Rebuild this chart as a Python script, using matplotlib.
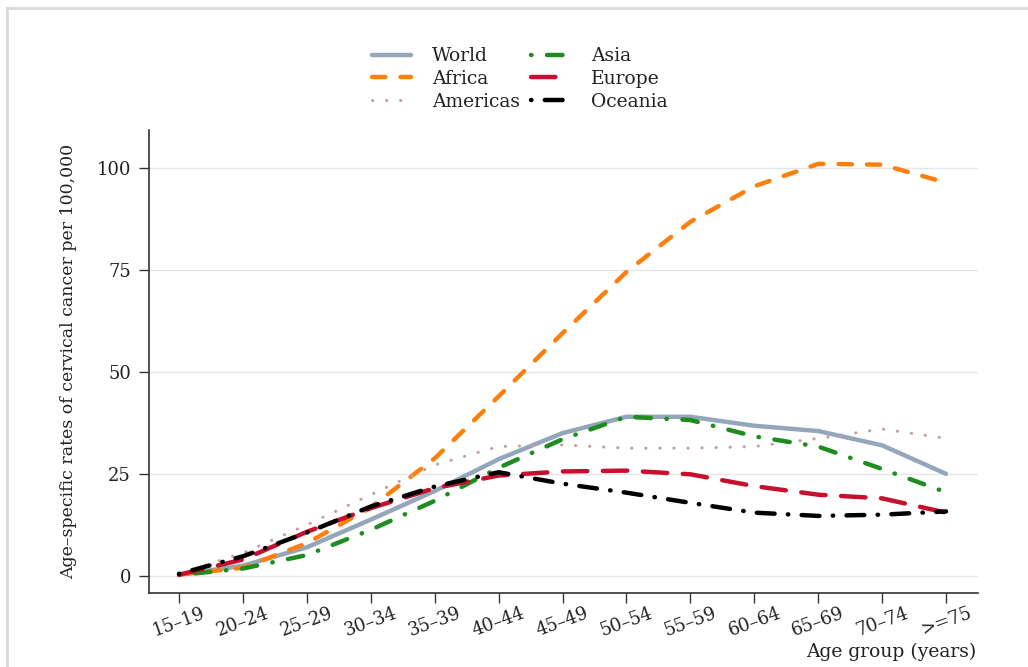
import matplotlib
matplotlib.use("Agg")
import matplotlib.pyplot as plt
from matplotlib.lines import Line2D

age_groups = ["15–19", "20–24", "25–29", "30–34", "35–39", "40–44", "45–49",
              "50–54", "55–59", "60–64", "65–69", "70–74", ">=75"]

world    = [0.3, 2.5, 7.0, 13.8, 20.8, 28.6, 35.0, 39.0, 39.0, 36.8, 35.5, 32.0, 25.0]
africa   = [0.3, 2.0, 8.0, 16.8, 28.8, 44.0, 59.5, 74.5, 86.8, 95.5, 101.0, 100.8, 96.4]
americas = [0.5, 5.6, 12.5, 19.9, 27.2, 31.7, 32.1, 31.3, 31.3, 31.7, 33.7, 36.0, 33.7]
asia     = [0.2, 1.8, 5.1, 11.3, 18.4, 26.5, 33.5, 39.0, 38.2, 34.2, 31.7, 26.2, 20.5]
europe   = [0.3, 4.0, 10.8, 16.6, 21.5, 24.6, 25.6, 25.8, 24.9, 22.0, 19.9, 19.0, 15.5]
oceania  = [0.5, 4.8, 10.6, 17.0, 21.9, 25.4, 22.6, 20.4, 17.9, 15.5, 14.7, 15.0, 15.8]

yticks = [0, 25, 50, 75, 100]

plt.rcParams["font.family"] = ["DejaVu Serif"]

W, H = 1028, 667
fig = plt.figure(figsize=(W / 100, H / 100), dpi=100)
ax = fig.add_axes([149 / W, 1 - 593 / H, (978 - 149) / W, (593 - 130) / H])

x = list(range(len(age_groups)))
lw = 3.2
ax.plot(x, world, color="#94a6ba", lw=lw, solid_capstyle="round", label="World", zorder=3)
ax.plot(x, africa, color="#ff7f0e", lw=lw, dashes=(3.0, 3.4), dash_capstyle="round",
        label="Africa", zorder=3)
ax.plot(x, americas, color="#c4a29c", lw=2.2, dashes=(0.1, 4.5), dash_capstyle="round",
        label="Americas", zorder=3)
ax.plot(x, asia, color="#1f8c1f", lw=lw, dashes=(0.1, 3.5, 3.5, 3.5), dash_capstyle="round",
        label="Asia", zorder=3)
ax.plot(x, europe, color="#c8102e", lw=lw, dashes=(5.5, 3.5), dash_capstyle="round",
        label="Europe", zorder=3)
ax.plot(x, oceania, color="black", lw=lw, dashes=(0.1, 3.0, 4.0, 3.0), dash_capstyle="round",
        label="Oceania", zorder=4)

ax.set_xlim(-0.47, 12.5)
ax.set_ylim(-4.2, 109.3)
ax.set_yticks(yticks)
ax.set_yticklabels([str(v) for v in yticks], fontsize=13, color="#222222")
ax.set_xticks(x)
ax.set_xticklabels(age_groups, rotation=20, ha="center", fontsize=13, color="#222222")
ax.tick_params(axis="both", length=7, width=1, color="#333333")
ax.tick_params(axis="x", pad=1)
ax.tick_params(axis="y", pad=6)

ax.grid(axis="y", color="#e6e6e6", lw=1)
ax.set_axisbelow(True)
for side in ("top", "right"):
    ax.spines[side].set_visible(False)
for side in ("left", "bottom"):
    ax.spines[side].set_color("#333333")
    ax.spines[side].set_linewidth(1.2)

ax.set_ylabel("Age–specific rates of cervical cancer per 100,000", fontsize=12.5,
              color="#222222", labelpad=14)
fig.text(976 / W, 1 - 652 / H, "Age group (years)", fontsize=13.5, color="#222222",
         ha="right", va="center")

handles, labels = ax.get_legend_handles_labels()
leg = fig.legend(handles, labels,
                 ncol=2, frameon=False, loc="center", bbox_to_anchor=(520 / W, 1 - 79 / H),
                 fontsize=13.5, handlelength=2.1, handletextpad=1.1, columnspacing=0.6,
                 labelspacing=0.25)
for t in leg.get_texts():
    t.set_color("#222222")

# light frame around the figure area
fig.add_artist(Line2D([7 / W, 7 / W], [0, 1 - 8 / H], transform=fig.transFigure,
                      color="#d9d9d9", lw=2))
fig.add_artist(Line2D([7 / W, 1], [1 - 8 / H, 1 - 8 / H], transform=fig.transFigure,
                      color="#d9d9d9", lw=2))

fig.savefig("out.png", dpi=100)
